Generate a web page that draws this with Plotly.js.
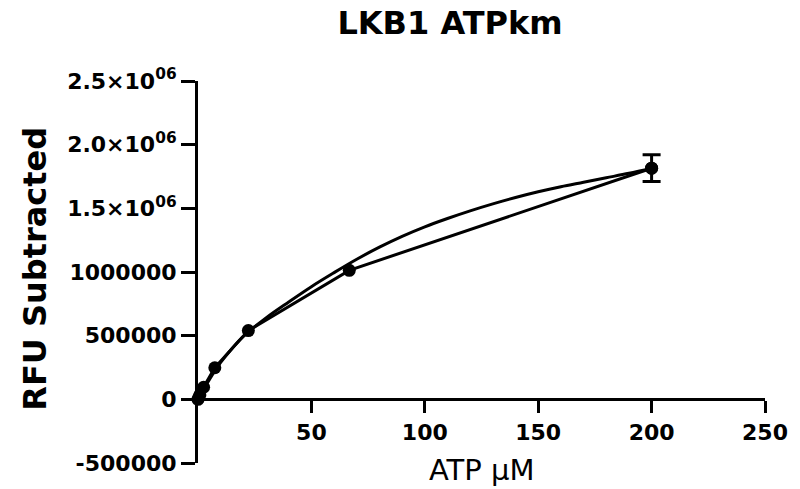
<!DOCTYPE html>
<html>
<head>
<meta charset="utf-8">
<script src="https://cdn.plot.ly/plotly-3.0.1.min.js"></script>
<style>html,body{margin:0;padding:0;background:#fff;}#chart{width:800px;height:489px;}</style>
</head>
<body>
<div id="chart"></div>
<script>
// Measured data (ATP µM vs RFU subtracted)
var atpX = [0, 0.27, 0.82, 2.47, 7.41, 22.2, 66.7, 200];
var rfu  = [0, 12000, 35000, 95000, 248000, 540000, 1013000, 1815000];
var rfuSd = [0, 0, 0, 0, 0, 0, 0, 105000];

// Fitted curve
var fitX = [0, 2.5, 5, 10, 15, 20, 30, 40, 50, 60, 70, 80, 90, 100, 110, 120, 130, 140, 150, 160, 170, 180, 190, 200];
var fitY = [0, 80000, 155000, 290000, 400000, 495000, 640000, 765000, 885000, 995000, 1100000, 1195000, 1280000, 1355000, 1420000, 1480000, 1535000, 1585000, 1630000, 1670000, 1705000, 1740000, 1775000, 1815000];

// Tick labels
var yTickVals = [-500000, 0, 500000, 1000000, 1500000, 2000000, 2500000];
var yTickText = ['-500000', '0', '500000', '1000000', '1.5×10<sup>06</sup>', '2.0×10<sup>06</sup>', '2.5×10<sup>06</sup>'];
var xTickVals = [50, 100, 150, 200, 250];
var xTickText = ['50', '100', '150', '200', '250'];

var last = atpX.length - 1;

var traces = [
  {
    x: fitX, y: fitY, mode: 'lines', type: 'scatter',
    line: {color: '#000', width: 3, shape: 'spline'},
    cliponaxis: false, hoverinfo: 'skip', showlegend: false
  },
  {
    x: atpX, y: rfu, mode: 'lines+markers', type: 'scatter',
    line: {color: '#000', width: 3},
    marker: {color: '#000', size: 13, symbol: 'circle'},
    cliponaxis: false, showlegend: false
  },
  {
    x: [atpX[last]], y: [rfu[last]], mode: 'markers', type: 'scatter',
    marker: {color: '#000', size: 13, symbol: 'circle'},
    error_y: {type: 'data', array: [rfuSd[last]], visible: true, color: '#000', thickness: 3, width: 9},
    cliponaxis: false, showlegend: false
  }
];

var tickFont = {family: 'DejaVu Sans', size: 22, color: '#000', weight: 'bold'};

var layout = {
  width: 800, height: 489,
  paper_bgcolor: '#fff', plot_bgcolor: '#fff',
  margin: {l: 197.7, r: 34.5, t: 80.7, b: 26.3, pad: 0},
  showlegend: false,
  title: {
    text: 'LKB1 ATPkm',
    font: {family: 'DejaVu Sans', size: 32, color: '#000', weight: 'bold'},
    xref: 'container', yref: 'container', x: 0.5625, y: 0.954,
    xanchor: 'center', yanchor: 'middle'
  },
  xaxis: {
    range: [0, 250],
    tickvals: xTickVals, ticktext: xTickText,
    ticks: 'outside', ticklen: 12, tickwidth: 3, tickcolor: '#000',
    showline: true, linecolor: '#000', linewidth: 3,
    showgrid: false, zeroline: false,
    anchor: 'free', position: 1/6,
    tickfont: tickFont, automargin: false
  },
  yaxis: {
    range: [-500000, 2500000],
    tickvals: yTickVals, ticktext: yTickText,
    ticks: 'outside', ticklen: 14, tickwidth: 3, tickcolor: '#000',
    showline: true, linecolor: '#000', linewidth: 3,
    showgrid: false, zeroline: false,
    tickfont: tickFont, automargin: false
  },
  annotations: [
    {
      text: 'RFU Subtracted', textangle: -90, showarrow: false,
      xref: 'paper', yref: 'paper', x: -0.2866, y: 0.51,
      xanchor: 'center', yanchor: 'middle',
      font: {family: 'DejaVu Sans', size: 32, color: '#000', weight: 'bold'}
    },
    {
      text: 'ATP µM', showarrow: false,
      xref: 'paper', yref: 'paper', x: 0.5, y: -0.019,
      xanchor: 'center', yanchor: 'middle',
      font: {family: 'DejaVu Sans', size: 29, color: '#000'}
    }
  ]
};

Plotly.newPlot('chart', traces, layout, {staticPlot: true, displayModeBar: false});
</script>
</body>
</html>
